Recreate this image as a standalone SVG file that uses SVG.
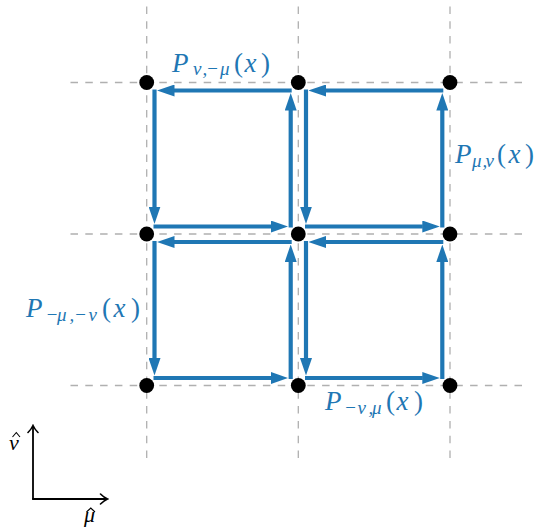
<svg xmlns="http://www.w3.org/2000/svg" width="537" height="531" viewBox="0 0 537 531">
<style>
.grid{stroke:#b0b0b0;stroke-width:1.3;stroke-dasharray:7.5 7.3;fill:none}
.link{stroke:#1f77b4;stroke-width:4.2;fill:none;marker-end:url(#ah)}
.dot{fill:#000}
.lbl{font-family:"Liberation Serif","DejaVu Serif",serif;fill:#1f77b4;font-size:27px}
.it{font-style:italic}
.sub{font-style:italic;font-size:19px}
.ax{stroke:#000;stroke-width:1.8;fill:none}
.axl{font-family:"Liberation Serif","DejaVu Serif",serif;fill:#000;font-size:22px;font-style:italic}
.hat{stroke:#000;stroke-width:1.1;fill:none;stroke-linejoin:miter}
</style>
<defs>
<marker id="ah" viewBox="0 0 17.5 12" refX="0.5" refY="6" markerWidth="17.5" markerHeight="12" markerUnits="userSpaceOnUse" orient="auto">
<path d="M0,0 L17.5,6 L0,12 Z" fill="#1f77b4"/>
</marker>
<marker id="oa" viewBox="0 0 10 12" refX="8" refY="6" markerWidth="10" markerHeight="12" markerUnits="userSpaceOnUse" orient="auto">
<path d="M1.5,1 Q5,4.5 8.5,6 Q5,7.5 1.5,11" fill="none" stroke="#000" stroke-width="1.6" stroke-linecap="round"/>
</marker>
</defs>

<g id="grid">
<line class="grid" x1="146.7" y1="6.5" x2="146.7" y2="462"/>
<line class="grid" x1="298.3" y1="6.5" x2="298.3" y2="462"/>
<line class="grid" x1="450" y1="6.5" x2="450" y2="462"/>
<line class="grid" x1="70.5" y1="82.5" x2="527" y2="82.5"/>
<line class="grid" x1="70.5" y1="234" x2="527" y2="234"/>
<line class="grid" x1="70.5" y1="385.5" x2="527" y2="385.5"/>
</g>

<g id="connectors">
<path class="link" d="M291.7,90.5 H174"/>
<path class="link" d="M154.5,89.5 V207"/>
<path class="link" d="M153.5,226.5 H271.2"/>
<path class="link" d="M290.7,227.5 V110"/>
<path class="link" d="M443.3,90.5 H325.5"/>
<path class="link" d="M306,89.5 V207"/>
<path class="link" d="M305,226.5 H422.8"/>
<path class="link" d="M442.3,227.5 V110"/>
<path class="link" d="M291.7,242 H174"/>
<path class="link" d="M154.5,241 V358.5"/>
<path class="link" d="M153.5,378 H271.2"/>
<path class="link" d="M290.7,379 V261.5"/>
<path class="link" d="M443.3,242 H325.5"/>
<path class="link" d="M306,241 V358.5"/>
<path class="link" d="M305,378 H422.8"/>
<path class="link" d="M442.3,379 V261.5"/>
</g>

<g id="n00"><circle class="dot" cx="146.7" cy="82.5" r="7.4"/></g>
<g id="n01"><circle class="dot" cx="298.3" cy="82.5" r="7.4"/></g>
<g id="n02"><circle class="dot" cx="450" cy="82.5" r="7.4"/></g>
<g id="n10"><circle class="dot" cx="146.7" cy="234" r="7.4"/></g>
<g id="n11"><circle class="dot" cx="298.3" cy="234" r="7.4"/></g>
<g id="n12"><circle class="dot" cx="450" cy="234" r="7.4"/></g>
<g id="n20"><circle class="dot" cx="146.7" cy="385.5" r="7.4"/></g>
<g id="n21"><circle class="dot" cx="298.3" cy="385.5" r="7.4"/></g>
<g id="n22"><circle class="dot" cx="450" cy="385.5" r="7.4"/></g>

<g id="labels">
<text class="lbl"><tspan class="it" x="172" y="71.5">P</tspan><tspan class="sub" x="193 202.5 206 220" y="75">ν,−μ</tspan><tspan x="234" y="71.5">(</tspan><tspan class="it" x="244.5" y="71.5">x</tspan><tspan x="261" y="71.5">)</tspan></text>
<text class="lbl"><tspan class="it" x="455" y="163">P</tspan><tspan class="sub" x="472 482.5 485.5" y="166.5">μ,ν</tspan><tspan x="497" y="163">(</tspan><tspan class="it" x="508.5" y="163">x</tspan><tspan x="525" y="163">)</tspan></text>
<text class="lbl"><tspan class="it" x="26" y="317">P</tspan><tspan class="sub" x="45.5 57 69.5 74 88.5" y="320.5">−μ,−ν</tspan><tspan x="102" y="317">(</tspan><tspan class="it" x="113.5" y="317">x</tspan><tspan x="131" y="317">)</tspan></text>
<text class="lbl"><tspan class="it" x="325" y="410">P</tspan><tspan class="sub" x="344 357.5 368.5 372" y="413.5">−ν,μ</tspan><tspan x="386" y="410">(</tspan><tspan class="it" x="396.5" y="410">x</tspan><tspan x="414" y="410">)</tspan></text>
</g>

<g id="axes">
<path class="ax" d="M33,499 V426" marker-end="url(#oa)"/>
<path class="ax" d="M32.1,499 H107" marker-end="url(#oa)"/>
<text class="axl" x="9" y="450">ν</text>
<polyline class="hat" points="12.5,437 16.3,432.5 20,437"/>
<text class="axl" x="84" y="522">μ</text>
<polyline class="hat" points="86.5,512 90.8,508 95,512"/>
</g>
</svg>
